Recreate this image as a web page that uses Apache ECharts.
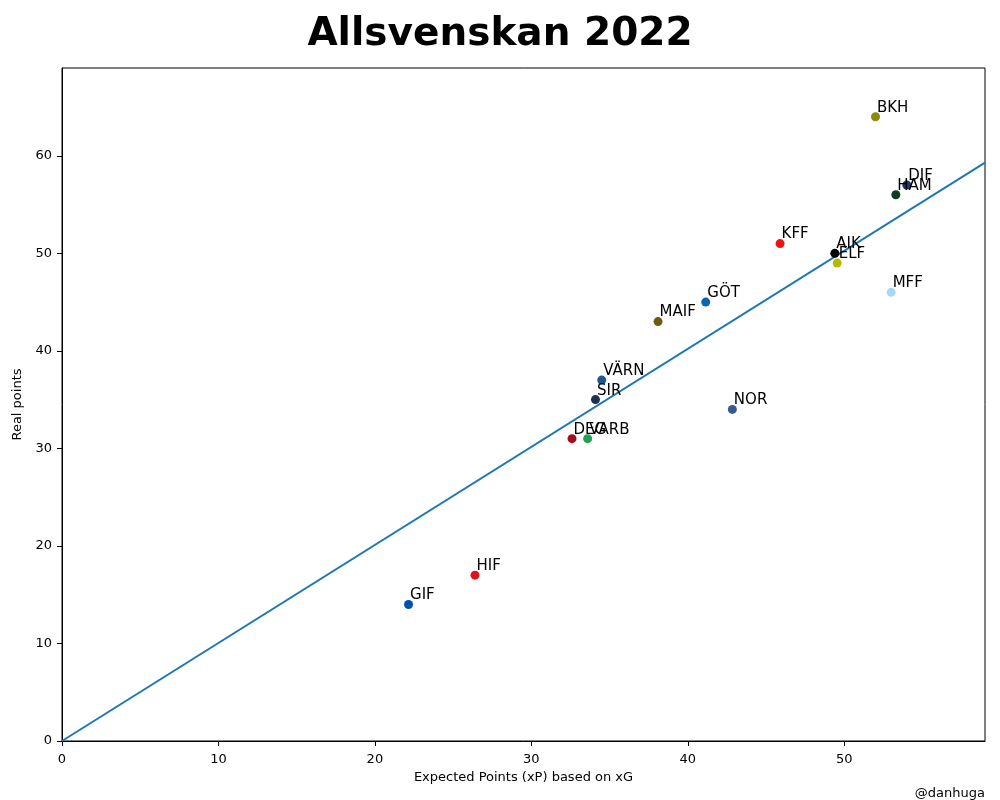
<!DOCTYPE html>
<html><head><meta charset="utf-8">
<script src="https://cdn.jsdelivr.net/npm/echarts@6/dist/echarts.min.js"></script>
<style>html,body{margin:0;padding:0;background:#fff}#c{width:1000px;height:800px}</style>
</head><body><div id="c"></div>
<script>
const teams = ['BKH','DIF','HAM','KFF','AIK','ELF','MFF','GÖT','MAIF','VÄRN','SIR','NOR','DEG','VARB','HIF','GIF'];
const xP = [52.0,54.0,53.3,45.9,49.4,49.55,53.0,41.15,38.1,34.5,34.1,42.85,32.6,33.6,26.4,22.15];
const pts = [64,57,56,51,50,49,46,45,43,37,35,34,31,31,17,14];
const colors = ['#8a8a10','#1a3a6b','#0e3d26','#ee1111','#000000','#b8b800','#a8d8f8','#0a64b4','#6e5a0c','#1a5a8a','#1e3050','#3a5a90','#a01020','#22a050','#e01020','#0050b0'];
const lineX = [0,59];
const lineY = [0,59.3];
const chart = echarts.init(document.getElementById('c'));
const font = 'DejaVu Sans';
chart.setOption({
  animation:false,
  textStyle:{fontFamily:font},
  title:[{text:'Allsvenskan 2022',left:'center',top:10,textStyle:{fontSize:39,fontWeight:'bold',color:'#000',fontFamily:font}},
         {text:'@danhuga',right:10,top:782,textStyle:{fontSize:13,fontWeight:'normal',color:'#000',fontFamily:font}}],
  grid:{left:62,right:15,top:68,bottom:59,show:true,borderColor:'#000',borderWidth:1},
  xAxis:{type:'value',min:0,max:59,interval:10,name:'Expected Points (xP) based on xG',nameLocation:'middle',nameGap:30,
    nameTextStyle:{fontSize:13,color:'#000'},
    axisLine:{onZero:false,lineStyle:{color:'#000'}},axisTick:{lineStyle:{color:'#000'}},splitLine:{show:false},
    axisLabel:{color:'#000',fontSize:13,margin:12,showMaxLabel:false}},
  yAxis:{type:'value',min:0,max:69,interval:10,name:'Real points',nameLocation:'middle',nameGap:34,
    nameTextStyle:{fontSize:13,color:'#000'},
    axisLine:{show:true,lineStyle:{color:'#000'}},axisTick:{show:true,lineStyle:{color:'#000'}},splitLine:{show:false},
    axisLabel:{color:'#000',fontSize:13,margin:10,showMaxLabel:false}},
  series:[
    {type:'line',data:lineX.map((x,i)=>[x,lineY[i]]),showSymbol:false,lineStyle:{color:'#1f77b4',width:2},z:1},
    {type:'scatter',symbolSize:9,z:3,
     data:teams.map((t,i)=>({value:[xP[i],pts[i]],name:t,itemStyle:{color:colors[i],opacity:1}})),
     label:{show:true,formatter:p=>p.name,position:[6,-12],fontSize:15,color:'#000'},
     labelLayout:{hideOverlap:false}}
  ]
});
</script></body></html>
